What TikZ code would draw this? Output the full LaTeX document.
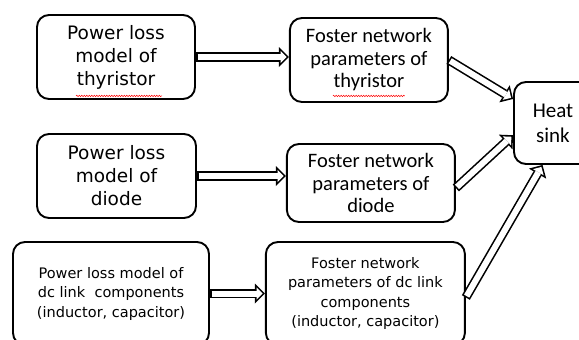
\documentclass[tikz,border=0pt]{standalone}
\usepackage{fontspec}
\setmainfont{DejaVu Sans}
\newfontfamily\calfont{Carlito}
\usepackage{tikz}
\usetikzlibrary{positioning,arrows.meta,decorations.pathmorphing}

\begin{document}
\begin{tikzpicture}[x=1pt, y=-1pt,
  box/.style={draw, line width=1.9pt, rounded corners=12pt, align=center, inner sep=0pt},
  bigtxt/.style={font=\fontsize{18.5}{23}\selectfont},
  caltxt/.style={font=\calfont\fontsize{20.5}{22.5}\selectfont},
  smalltxt/.style={font=\fontsize{14.5}{19.5}\selectfont},
  flow/.style={line width=9.2pt, -{Triangle[length=10pt, width=20pt, line width=0pt]},
    postaction={draw, white, line width=6pt, shorten <=1.6pt, shorten >=2.3pt,
      -{Triangle[length=6.1pt, width=12.3pt, line width=0pt]}}},
  spell/.style={red, line width=0.5pt, decorate, decoration={snake, amplitude=0.7pt, segment length=2.5pt}}]
  \useasboundingbox (0,0) rectangle (579,340);

  % Verlustmodelle
  \node[box, bigtxt, minimum width=158pt, minimum height=84pt] (pl1) at (116,57)
    {Power loss\\ model of\\ thyristor};
  \node[box, bigtxt, minimum width=159pt, minimum height=84pt] (pl2) at (116.5,176)
    {Power loss\\ model of\\ diode};
  \node[box, smalltxt, minimum width=196pt, minimum height=103pt] (pl3) at (111,293.5)
    {Power loss model of\\ dc link~ components\\ (inductor, capacitor)};

  % Foster-Netzwerke
  \node[box, caltxt, minimum width=158pt, minimum height=84pt, right=93pt of pl1, yshift=-3pt] (fn1)
    {Foster network\\ parameters of\\ thyristor};
  \node[box, caltxt, minimum width=168pt, minimum height=78pt, right=89pt of pl2, yshift=-7pt] (fn2)
    {Foster network\\ parameters of\\ diode};
  \node[box, smalltxt, minimum width=199pt, minimum height=103pt, right=55pt of pl3] (fn3)
    {Foster network\\ parameters of dc link\\ components\\ (inductor, capacitor)};

  % Kuehlkoerper
  \node[box, font=\calfont\fontsize{21}{25}\selectfont, minimum width=78pt, minimum height=82pt] (hs) at (553,123)
    {Heat\\ sink};

  % Pfeile
  \foreach \i in {1,2,3}
    \draw[flow] (pl\i.east) -- (pl\i.east-|fn\i.west);
  \draw[flow] (fn1.east) -- (hs.149);
  \draw[flow] ([yshift=-5pt]fn2.east) -- (hs.197);
  \draw[flow] ([yshift=-4pt]fn3.east) -- (hs.256);

  % Rechtschreibmarkierung
  \draw[spell] ([xshift=-40pt, yshift=4pt]pl1.south) -- ([xshift=46pt, yshift=4pt]pl1.south);
  \draw[spell] ([xshift=-36pt, yshift=7pt]fn1.south) -- ([xshift=36pt, yshift=7pt]fn1.south);
\end{tikzpicture}
\end{document}
